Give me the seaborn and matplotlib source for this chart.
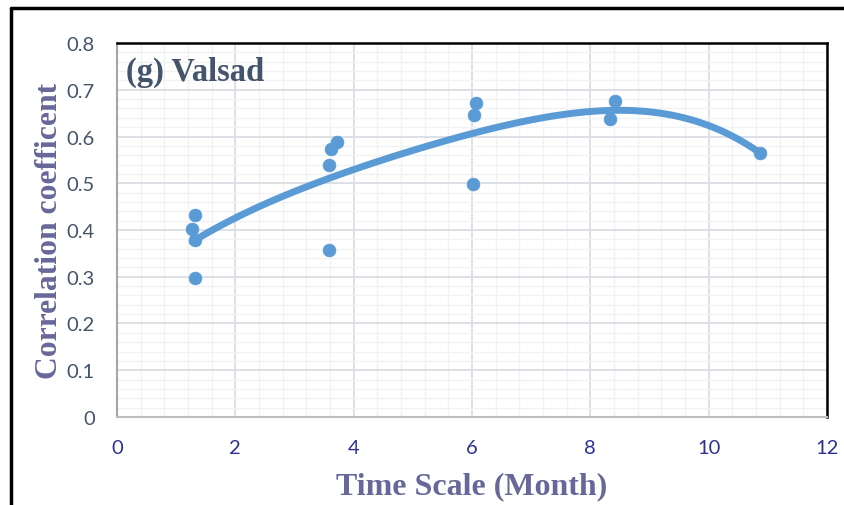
import numpy as np
import pandas as pd
import matplotlib
matplotlib.use("Agg")
import matplotlib.pyplot as plt
import seaborn as sns
from matplotlib.lines import Line2D
from matplotlib.ticker import MultipleLocator

# ---- data ----
time_scale = [1.32, 1.27, 1.32, 1.32,
              3.59, 3.62, 3.71, 3.59,
              6.02, 6.04, 6.07,
              8.34, 8.41,
              10.86]
correlation = [0.432, 0.402, 0.379, 0.297,
               0.539, 0.573, 0.588, 0.357,
               0.498, 0.646, 0.672,
               0.637, 0.676,
               0.565]
x_ticks = [0, 2, 4, 6, 8, 10, 12]
y_ticks = [0, 0.1, 0.2, 0.3, 0.4, 0.5, 0.6, 0.7, 0.8]
panel_title = "(g) Valsad"
x_label = "Time Scale (Month)"
y_label = "Correlation coefficent"

df = pd.DataFrame({"t": time_scale, "r": correlation})

sns.set_theme(style="white")
plt.rcParams["font.family"] = ["Lato", "DejaVu Sans"]

fig = plt.figure(figsize=(8.45, 5.06), dpi=100)
ax = fig.add_axes([0.1385, 0.174, 0.8402, 0.739])

blue = "#5B9BD5"
sns.regplot(data=df, x="t", y="r", order=4, ci=None, scatter=False,
            line_kws=dict(color=blue, lw=5.0, solid_capstyle="round"), ax=ax)
sns.scatterplot(data=df, x="t", y="r", color=blue, s=85, edgecolor=blue,
                linewidth=0.5, ax=ax, zorder=5)

ax.set_xlim(0, 12)
ax.set_ylim(0, 0.8)
ax.set_xticks(x_ticks)
ax.set_xticklabels([str(v) for v in x_ticks])
ax.set_yticks(y_ticks)
ax.set_yticklabels(["0" if v == 0 else f"{v:.1f}" for v in y_ticks])
ax.xaxis.set_minor_locator(MultipleLocator(0.4))
ax.yaxis.set_minor_locator(MultipleLocator(0.02))
ax.grid(True, which="major", color="#DADDE3", lw=1.3)
ax.grid(True, which="minor", color="#F1F2F4", lw=1.0)
ax.set_axisbelow(True)

ax.tick_params(axis="both", which="both", length=0)
ax.tick_params(axis="y", colors="#44546A", labelsize=14.5, pad=16)
ax.tick_params(axis="x", colors="#2E3192", labelsize=14.5, pad=16)

for side in ["top", "right"]:
    ax.spines[side].set_color("black")
    ax.spines[side].set_linewidth(1.8)
ax.spines["left"].set_color("#A6A6A6")
ax.spines["left"].set_linewidth(1.5)
ax.spines["bottom"].set_color("#BFBFBF")
ax.spines["bottom"].set_linewidth(1.5)

serif = ["Liberation Serif", "DejaVu Serif"]
ax.set_xlabel(x_label, family=serif, fontweight="bold", fontsize=23,
              color="#67679A", labelpad=11)
ax.set_ylabel(y_label, family=serif, fontweight="bold", fontsize=22.8,
              color="#67679A", labelpad=2)
ax.text(0.012, 0.925, panel_title, transform=ax.transAxes, family=serif,
        fontweight="bold", fontsize=23.5, color="#44546A", va="center", ha="left")

# outer frame (top and left edges, as in the cropped reference)
fig.add_artist(Line2D([0.0128, 1.0], [0.982, 0.982], transform=fig.transFigure,
                      color="black", lw=2.5))
fig.add_artist(Line2D([0.0128, 0.0128], [0.0, 0.982], transform=fig.transFigure,
                      color="black", lw=2.5))

fig.savefig("out.png", dpi=100, facecolor="white")
